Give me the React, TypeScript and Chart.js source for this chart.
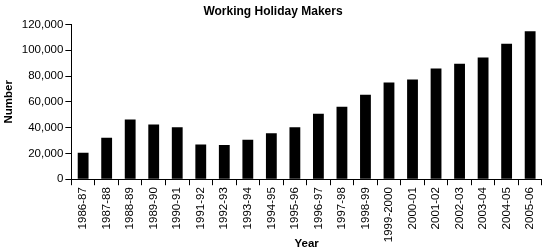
import React, { useEffect, useRef } from "react";
import { Chart, registerables } from "chart.js";

Chart.register(...registerables);

const categories = [
  "1986-87", "1987-88", "1988-89", "1989-90", "1990-91", "1991-92", "1992-93",
  "1993-94", "1994-95", "1995-96", "1996-97", "1997-98", "1998-99", "1999-2000",
  "2000-01", "2001-02", "2002-03", "2003-04", "2004-05", "2005-06",
];
const numbers = [
  20500, 32100, 46300, 42400, 40300, 26900, 26500, 30500, 35700, 40300,
  50700, 56200, 65500, 75000, 77300, 85900, 89500, 94400, 105000, 114600,
];
const titleText = "Working Holiday Makers";
const xTitle = "Year";
const yTitle = "Number";
const yMax = 120000;
const yStep = 20000;

export default function App() {
  const ref = useRef<HTMLCanvasElement | null>(null);
  useEffect(() => {
    if (!ref.current) return;
    const font = "'Liberation Sans', Arial, sans-serif";
    const chart = new Chart(ref.current, {
      type: "bar",
      data: {
        labels: categories,
        datasets: [
          {
            data: numbers,
            backgroundColor: "#000000",
            borderWidth: 0,
            barPercentage: 0.46,
            categoryPercentage: 1,
          },
        ],
      },
      options: {
        animation: false,
        responsive: false,
        maintainAspectRatio: false,
        layout: { padding: { top: 2, right: 2, left: 2, bottom: 1 } },
        plugins: {
          legend: { display: false },
          tooltip: { enabled: false },
          title: {
            display: true,
            text: titleText,
            color: "#000",
            font: { family: font, size: 12, weight: "bold" },
            padding: { top: 2, bottom: 6 },
          },
        },
        scales: {
          x: {
            afterFit: (scale: any) => {
              scale.height -= 7;
            },
            grid: {
              display: true,
              drawOnChartArea: false,
              drawTicks: true,
              tickLength: 6,
              color: "#000",
              offset: true,
            },
            border: { color: "#000", width: 1 },
            ticks: {
              color: "#000",
              font: { family: font, size: 11.5 },
              minRotation: 90,
              maxRotation: 90,
              autoSkip: false,
              padding: 2,
            },
            title: {
              display: true,
              text: xTitle,
              color: "#000",
              font: { family: font, size: 11.5, weight: "bold" },
              padding: { top: 0, bottom: 0 },
            },
          },
          y: {
            min: 0,
            max: yMax,
            grid: {
              display: true,
              drawOnChartArea: false,
              drawTicks: true,
              tickLength: 6,
              color: "#000",
            },
            border: { color: "#000", width: 1 },
            ticks: {
              stepSize: yStep,
              color: "#000",
              font: { family: font, size: 11.5 },
              padding: 2,
              callback: (v: any) => Number(v).toLocaleString("en-US"),
            },
            title: {
              display: true,
              text: yTitle,
              color: "#000",
              font: { family: font, size: 11.5, weight: "bold" },
              padding: { top: 0, bottom: 4 },
            },
          },
        },
      },
    });
    return () => chart.destroy();
  }, []);
  return (
    <div style={{ position: "fixed", left: 0, top: 0, width: 546, height: 252, background: "#fff" }}>
      <canvas ref={ref} width={546} height={252} style={{ width: 546, height: 252 }} />
    </div>
  );
}
